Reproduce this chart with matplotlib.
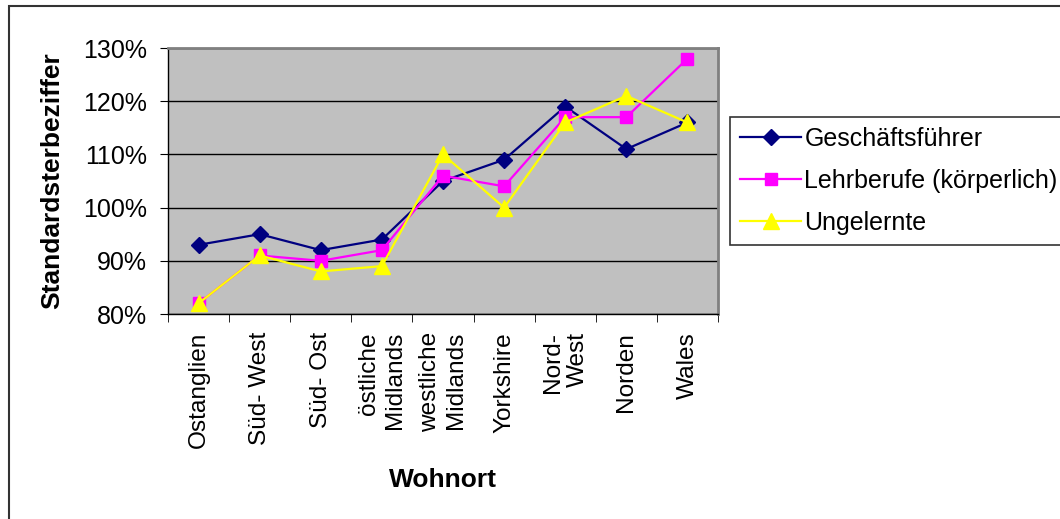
import matplotlib.pyplot as plt
from matplotlib.patches import Rectangle
import numpy as np

plt.rcParams['font.family'] = ['Liberation Sans', 'DejaVu Sans']

regionen = ["Ostanglien", "Süd- West", "Süd- Ost", "östliche\nMidlands",
            "westliche\nMidlands", "Yorkshire", "Nord-\nWest", "Norden", "Wales"]
geschaeftsfuehrer = [93, 95, 92, 94, 105, 109, 119, 111, 116]
lehrberufe = [82, 91, 90, 92, 106, 104, 117, 117, 128]
ungelernte = [82, 91, 88, 89, 110, 100, 116, 121, 116]
y_ticks = [80, 90, 100, 110, 120, 130]

fig = plt.figure(figsize=(10.6, 5.19), dpi=100)
ax = fig.add_axes([168/1060, 1-314/519, 550/1060, 266/519])
ax.set_facecolor("#C0C0C0")

x = np.arange(len(regionen))
ax.plot(x, geschaeftsfuehrer, color="#000080", marker="D", markersize=8, lw=1.6,
        label="Geschäftsführer")
ax.plot(x, lehrberufe, color="#FF00FF", marker="s", markersize=9, lw=1.6,
        label="Lehrberufe (körperlich)")
ax.plot(x, ungelernte, color="#FFFF00", marker="^", markersize=11, lw=1.6,
        label="Ungelernte")

ax.set_xlim(-0.5, len(regionen) - 0.5)
ax.set_ylim(80, 130)
ax.set_yticks(y_ticks)
ax.set_yticklabels([f"{v}%" for v in y_ticks], fontsize=18)
ax.yaxis.grid(True, color="black", lw=1)
ax.set_axisbelow(True)

ax.set_xticks(x)
ax.set_xticklabels(regionen, rotation=90, fontsize=17.6, va="top", ha="center",
                   multialignment="right")
ax.tick_params(axis="x", which="major", length=0, pad=13)
ax.set_xticks(np.arange(-0.5, len(regionen)), minor=True)
ax.tick_params(axis="x", which="minor", length=6, direction="out", color="black")
ax.tick_params(axis="y", length=6, direction="out", pad=9)

for side in ["top", "right"]:
    ax.spines[side].set_color("#808080")
    ax.spines[side].set_linewidth(2)
for side in ["left", "bottom"]:
    ax.spines[side].set_color("black")
    ax.spines[side].set_linewidth(1)

ax.set_ylabel("Standardsterbeziffer", fontsize=19, fontweight="bold")
ax.yaxis.set_label_coords((64 - 168) / 550, 0.5)
ax.set_xlabel("Wohnort", fontsize=19, fontweight="bold", labelpad=14)

leg = fig.legend(loc="upper left", bbox_to_anchor=(730/1060, 1-117/519),
                 fontsize=18, frameon=True, fancybox=False, edgecolor="black",
                 handlelength=2.45, borderpad=0.4, labelspacing=0.72,
                 handletextpad=0.12, borderaxespad=0)
leg.get_frame().set_linewidth(1.2)

# Rahmen um das Diagramm (rechts/unten ausserhalb des Bildes)
fig.patches.append(Rectangle((9/1060, -0.1), 1.2, 1 - 6/519 + 0.1,
                             transform=fig.transFigure, fill=False,
                             edgecolor="#333333", lw=1.5))

fig.savefig("out.png", dpi=100)
